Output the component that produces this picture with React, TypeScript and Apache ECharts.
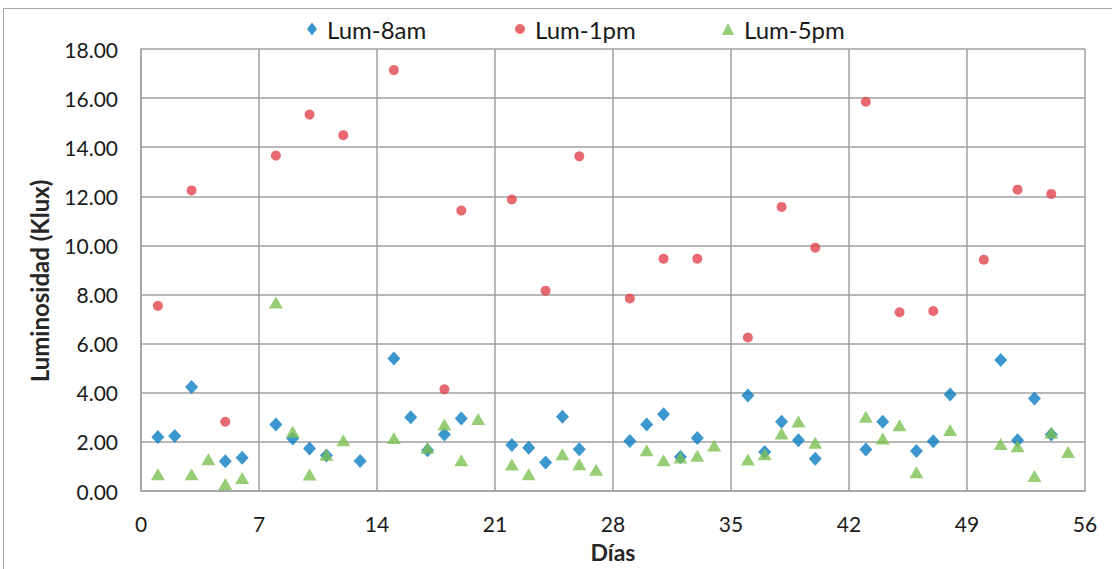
import React, { useEffect, useRef } from "react";
import * as echarts from "echarts";

const xTicks = [0, 7, 14, 21, 28, 35, 42, 49, 56];
const yTicks = [0, 2, 4, 6, 8, 10, 12, 14, 16, 18];

const seriesNames = ["Lum-8am", "Lum-1pm", "Lum-5pm"];
const xTitle = "Días";
const yTitle = "Luminosidad (Klux)";

const days8am = [1, 2, 3, 5, 6, 8, 9, 10, 11, 13, 15, 16, 17, 18, 19, 22, 23, 24, 25, 26, 29, 30, 31, 32, 33, 36, 37, 38, 39, 40, 43, 44, 46, 47, 48, 51, 52, 53, 54];
const lum8am = [2.2, 2.24, 4.24, 1.21, 1.35, 2.71, 2.14, 1.73, 1.45, 1.22, 5.4, 3.0, 1.66, 2.3, 2.95, 1.87, 1.76, 1.16, 3.02, 1.7, 2.04, 2.71, 3.13, 1.38, 2.16, 3.89, 1.59, 2.82, 2.07, 1.31, 1.69, 2.82, 1.63, 2.03, 3.93, 5.33, 2.07, 3.77, 2.3];

const days1pm = [1, 3, 5, 8, 10, 12, 15, 18, 19, 22, 24, 26, 29, 31, 33, 36, 38, 40, 43, 45, 47, 50, 52, 54];
const lum1pm = [7.54, 12.24, 2.82, 13.66, 15.33, 14.49, 17.14, 4.14, 11.42, 11.87, 8.16, 13.63, 7.84, 9.46, 9.46, 6.25, 11.57, 9.91, 15.85, 7.28, 7.33, 9.42, 12.27, 12.1];

const days5pm = [1, 3, 4, 5, 6, 8, 9, 10, 11, 12, 15, 17, 18, 19, 20, 22, 23, 25, 26, 27, 30, 31, 32, 33, 34, 36, 37, 38, 39, 40, 43, 44, 45, 46, 48, 51, 52, 53, 54, 55];
const lum5pm = [0.68, 0.68, 1.29, 0.29, 0.53, 7.68, 2.41, 0.67, 1.48, 2.07, 2.16, 1.76, 2.71, 1.25, 2.93, 1.08, 0.68, 1.5, 1.09, 0.87, 1.66, 1.25, 1.36, 1.44, 1.85, 1.28, 1.5, 2.34, 2.83, 1.97, 3.02, 2.14, 2.68, 0.76, 2.48, 1.91, 1.82, 0.61, 2.38, 1.59];

const colors = ["#0a7dc2", "#e3434f", "#7dc152"];
const symbols = ["diamond", "circle", "triangle"];

const pairs = (xs: number[], ys: number[]) => xs.map((x, i) => [x, ys[i]]);

export default function App() {
  const ref = useRef<HTMLDivElement>(null);
  useEffect(() => {
    if (!ref.current) return;
    const chart = echarts.init(ref.current, null, { renderer: "svg" });
    const font = "Lato, 'Open Sans', sans-serif";
    const legendLefts = [307, 515, 722];
    const legendSizes = [
      [10, 13],
      [10, 10],
      [12, 12],
    ];
    const legendFont = 24;
    chart.setOption({
      animation: false,
      textStyle: { fontFamily: font },
      graphic: [
        {
          type: "rect",
          shape: { x: 3.5, y: 8.5, width: 1120, height: 600 },
          style: { fill: "none", stroke: "#a6a6a6", lineWidth: 1 },
          silent: true,
        },
        {
          type: "text",
          x: 39,
          y: 281,
          rotation: Math.PI / 2,
          style: {
            text: yTitle,
            fontSize: 24,
            fontWeight: "bold",
            fontFamily: font,
            fill: "#262626",
            align: "center",
            verticalAlign: "middle",
          },
          silent: true,
        },
      ],
      legend: seriesNames.map((name, i) => ({
        left: legendLefts[i],
        top: 29 - legendFont * 0.6,
        padding: 0,
        itemWidth: legendSizes[i][0],
        itemHeight: legendSizes[i][1],
        itemGap: 0,
        textStyle: {
          fontSize: legendFont,
          lineHeight: legendFont * 1.2,
          color: "#1a1a1a",
          fontFamily: font,
          padding: [0, 0, 0, 5],
        },
        data: [{ name, icon: symbols[i] }],
      })),
      grid: {
        left: 141,
        right: 27,
        top: 49,
        bottom: 78,
        containLabel: false,
        outerBoundsMode: "none",
      },
      xAxis: {
        type: "value",
        min: xTicks[0],
        max: xTicks[xTicks.length - 1],
        interval: 7,
        name: xTitle,
        nameLocation: "middle",
        nameGap: 49,
        nameTextStyle: { fontSize: 23, fontWeight: "bold", color: "#262626", fontFamily: font },
        axisLine: { show: true, lineStyle: { color: "#a0a0a0", width: 1.5 } },
        axisTick: { show: false },
        axisLabel: { fontSize: 21, color: "#1a1a1a", margin: 22 },
        splitLine: { show: true, lineStyle: { color: "#a0a0a0", width: 1.5 } },
      },
      yAxis: {
        type: "value",
        min: yTicks[0],
        max: yTicks[yTicks.length - 1],
        interval: 2,
        axisLine: { show: true, lineStyle: { color: "#a0a0a0", width: 1.5 } },
        axisTick: { show: false },
        axisLabel: {
          fontSize: 21,
          color: "#1a1a1a",
          margin: 23,
          formatter: (v: number) => v.toFixed(2),
        },
        splitLine: { show: true, lineStyle: { color: "#a0a0a0", width: 1.5 } },
      },
      series: [
        {
          name: seriesNames[0],
          type: "scatter",
          symbol: symbols[0],
          symbolSize: [13, 14],
          itemStyle: { color: colors[0] },
          data: pairs(days8am, lum8am),
        },
        {
          name: seriesNames[1],
          type: "scatter",
          symbol: symbols[1],
          symbolSize: 10,
          itemStyle: { color: colors[1] },
          data: pairs(days1pm, lum1pm),
        },
        {
          name: seriesNames[2],
          type: "scatter",
          symbol: symbols[2],
          symbolSize: [14, 12],
          itemStyle: { color: colors[2] },
          data: pairs(days5pm, lum5pm),
        },
      ],
    });
    return () => chart.dispose();
  }, []);
  return (
    <div
      ref={ref}
      style={{ position: "fixed", left: 0, top: 0, width: 1112, height: 569, background: "#fff" }}
    />
  );
}
